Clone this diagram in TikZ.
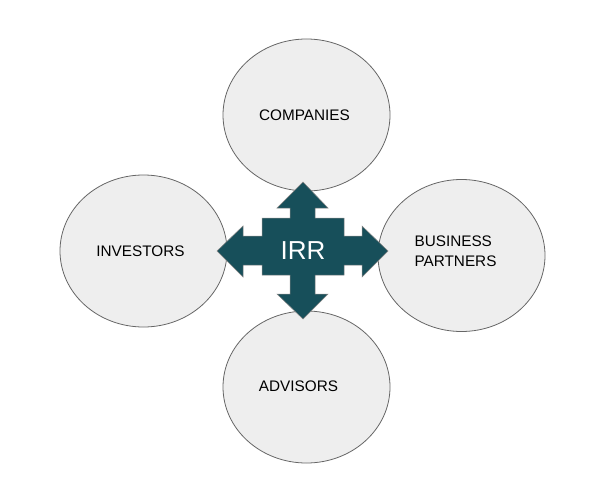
\documentclass[tikz,border=0pt]{standalone}
\usepackage{fontspec}
\setmainfont{Liberation Sans}
\usepackage{xcolor}
\usepackage{tikz}
\usetikzlibrary{positioning, shapes.geometric}
\definecolor{teal}{HTML}{174F5A}
\definecolor{lightgrey}{HTML}{EEEEEE}
\definecolor{rimgrey}{HTML}{666666}
\newcommand{\lblF}{\fontsize{15.3}{19.5}\selectfont}

\begin{document}
\begin{tikzpicture}[x=1pt, y=-1pt,
    circ/.style={draw=rimgrey, line width=0.8pt, fill=lightgrey, ellipse,
                 minimum width=167pt, minimum height=152pt, inner sep=0pt},
    lbl/.style={font=\lblF, text=black, inner sep=0pt}]
      \useasboundingbox (0,0) rectangle (609,503);
      % the four partner groups
      \node[circ] (companies) at (306.5,115) {};
      \node[circ] (investors) at (143.5,251) {};
      \node[circ] (partners) at (461.5,255.5) {};
      \node[circ] (advisors) at (306.5,387) {};
      \node[lbl] (companiestxt) at (304.5,115) {COMPANIES};
      \node[lbl] (investorstxt) at (140.5,251) {INVESTORS};
      \node[lbl, align=left] (partnerstxt) at (455.5,251) {BUSINESS\\PARTNERS};
      \node[lbl] (advisorstxt) at (298.5,386) {ADVISORS};
      % four-way arrow in the middle
      \filldraw[fill=teal, draw=rimgrey!80, line width=0.5pt]
        (303,182) -- (328,208) -- (315,208) -- (315,218) -- (344,218)
        -- (344,236) -- (362,236) -- (362,226) -- (388,251) -- (362,277)
        -- (362,265) -- (344,265) -- (344,275) -- (315,275) -- (315,294)
        -- (328,294) -- (303,319) -- (277,294) -- (290,294) -- (290,275)
        -- (262,275) -- (262,265) -- (243,265) -- (243,277) -- (217,251)
        -- (243,226) -- (243,236) -- (262,236) -- (262,218) -- (290,218)
        -- (290,208) -- (277,208) -- cycle;
      \node[font=\fontsize{26}{30}\selectfont, text=white, inner sep=0pt]
        (irr) at (303,251) {IRR};
    \end{tikzpicture}
\end{document}
